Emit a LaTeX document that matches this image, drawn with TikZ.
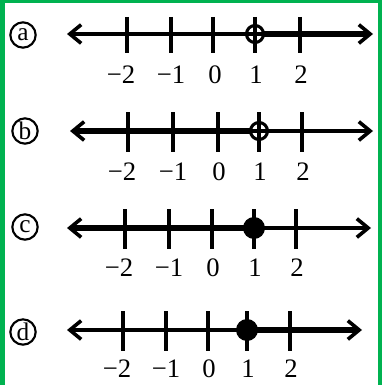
\documentclass[tikz,border=0pt]{standalone}
\usepackage{fontspec}
\setmainfont{Liberation Serif}
\usetikzlibrary{arrows.meta}
\definecolor{framegreen}{RGB}{0,178,80}
\begin{document}
\begin{tikzpicture}[x=0.75pt,y=-0.75pt,
    axis/.style={line width=2.7pt,{Straight Barb[length=8.5pt,width=14pt]}-{Straight Barb[length=8.5pt,width=14pt]}},
    ray/.style={line width=5pt},
    tickmark/.style={line width=2.4pt},
    num/.style={font=\fontsize{20}{22}\selectfont, inner sep=0pt},
    letter/.style={draw, circle, line width=1.6pt, minimum size=19pt, inner sep=0pt, font=\fontsize{19}{20}\selectfont}]
    % frame
    \useasboundingbox (0,0) rectangle (382,385);
    \fill[white] (0,0) rectangle (382,385);
    \fill[framegreen] (0,0) rectangle (5,385);
    \fill[framegreen] (0,0) rectangle (382,3);
    \fill[framegreen] (378,0) rectangle (382,385);

    % (a) open circle at 1, ray to the right
    \node[letter] (la) at (23,35) {a};
    \draw[ray] (264,34) -- (366,34);
    \draw[axis] (67,34) -- (373,34);
    \foreach \x/\s/\t [count=\i] in {127/-6/{−2},171/0/{−1},213/2/0,255/1/1,300/1/2}{
        \draw[tickmark] (\x,17) -- (\x,53);
        \node[num] (na\i) at (\x+\s,75) {\t};}
    \draw[line width=2.3pt] (255,34) circle (8.5);

    % (b) open circle at 1, ray to the left
    \node[letter] (lb) at (25,131) {b};
    \draw[ray] (76,131) -- (250,131);
    \draw[axis] (70,131) -- (373,131);
    \foreach \x/\s/\t [count=\i] in {128/-6/{−2},173/0/{−1},218/1/0,259/1/1,302/1/2}{
        \draw[tickmark] (\x,112) -- (\x,152);
        \node[num] (nb\i) at (\x+\s,172) {\t};}
    \draw[line width=2.3pt] (259,131) circle (8.5);

    % (c) closed dot at 1, ray to the left
    \node[letter] (lc) at (25,227) {c};
    \draw[ray] (73,228) -- (254,228);
    \draw[axis] (67,228) -- (371,228);
    \foreach \x/\s/\t [count=\i] in {125/-6/{−2},169/0/{−1},212/1/0,254/1/1,296/1/2}{
        \draw[tickmark] (\x,209) -- (\x,249);
        \node[num] (nc\i) at (\x+\s,268) {\t};}
    \fill (254,228) circle (11);

    % (d) closed dot at 1, ray to the right
    \node[letter] (ld) at (23,332) {d};
    \draw[ray] (247,330) -- (355,330);
    \draw[axis] (67,330) -- (362,330);
    \foreach \x/\s/\t [count=\i] in {123/-6/{−2},166/0/{−1},208/1/0,247/1/1,290/1/2}{
        \draw[tickmark] (\x,311) -- (\x,351);
        \node[num] (nd\i) at (\x+\s,369) {\t};}
    \fill (247,330) circle (11);
\end{tikzpicture}
\end{document}
